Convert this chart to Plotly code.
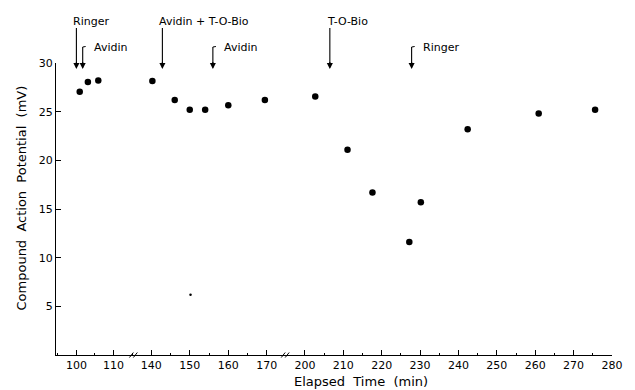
import numpy as np
import plotly.graph_objects as go

# ---------------- data ----------------
time_min = [100.9, 103.1, 105.9, 140.3, 146.1, 150.0, 154.0, 160.0, 169.5,
            202.7, 211.1, 217.6, 227.2, 230.2, 242.4, 260.9, 275.6]
cap_mv = [27.05, 28.05, 28.2, 28.15, 26.2, 25.2, 25.2, 25.65, 26.2,
          26.55, 21.1, 16.7, 11.6, 15.7, 23.2, 24.8, 25.2]

speck_time = [150.2]
speck_mv = [6.2]

event_labels = ["Ringer", "Avidin", "Avidin + T-O-Bio", "Avidin", "T-O-Bio", "Ringer"]
event_times = [100.0, 101.7, 142.9, 156.0, 206.5, 227.8]
event_long = [True, False, True, False, True, False]

# broken x axis segments (min)
seg_ranges = [(94.5, 115.5), (135.5, 174.9), (195.0, 280.0)]
y_ticks = [5, 10, 15, 20, 25, 30]

# ---------------- layout geometry ----------------
W, H = 635, 390
ML, MR, MT, MB = 56, 15, 63, 35
PW = W - ML - MR
PH = H - MT - MB
break_px = [135, 289]
doms = [(0.0, (break_px[0] - ML) / PW),
        ((break_px[0] - ML) / PW, (break_px[1] - ML) / PW),
        ((break_px[1] - ML) / PW, 1.0)]
axis_names = ["x", "x2", "x3"]
FONT = "DejaVu Sans"


def py(px_y):
    """page pixel row -> paper y"""
    return (MT + PH - px_y) / PH


fig = go.Figure()
t = np.array(time_min)
v = np.array(cap_mv)
st = np.array(speck_time)
sv = np.array(speck_mv)
for (lo, hi), ax in zip(seg_ranges, axis_names):
    m = (t >= lo) & (t <= hi)
    fig.add_trace(go.Scatter(x=t[m], y=v[m], mode="markers", xaxis=ax, yaxis="y",
                             marker=dict(size=6.5, color="black"), showlegend=False,
                             cliponaxis=False))
    ms = (st >= lo) & (st <= hi)
    if ms.any():
        fig.add_trace(go.Scatter(x=st[ms], y=sv[ms], mode="markers", xaxis=ax, yaxis="y",
                                 marker=dict(size=2.5, color="black"), showlegend=False))


def seg_of(x):
    for (lo, hi), ax in zip(seg_ranges, axis_names):
        if lo <= x <= hi:
            return ax
    return "x"


tip_px = 69
annotations = []
shapes = []
for lab, tm, lg in zip(event_labels, event_times, event_long):
    ax = seg_of(tm)
    tail_px = 28 if lg else 47
    # shaft
    shapes.append(dict(type="line", xref=ax, yref="paper", x0=tm, x1=tm,
                       y0=py(tail_px), y1=py(tip_px - 4), line=dict(color="black", width=1.1)))
    # head
    annotations.append(dict(x=tm, y=py(tip_px), xref=ax, yref="paper", text=" ",
                            showarrow=True, ax=0, ay=-8, arrowhead=2, arrowsize=1.1,
                            arrowwidth=1.1, arrowcolor="black", borderpad=0, font=dict(size=1)))
    if lg:
        annotations.append(dict(x=tm, y=py(21), xref=ax, yref="paper",
                                text=lab, showarrow=False, xanchor="left", yanchor="middle",
                                xshift=-5, font=dict(family=FONT, size=11, color="black")))
    else:
        annotations.append(dict(x=tm, y=py(47), xref=ax, yref="paper", text=lab,
                                showarrow=False, xanchor="left", yanchor="middle",
                                xshift=9, font=dict(family=FONT, size=11, color="black")))
        shapes.append(dict(type="line", xref=ax, yref="paper", x0=tm, x1=tm + 0.8,
                           y0=py(tail_px), y1=py(tail_px - 0.5),
                           line=dict(color="black", width=1)))

# axis break marks
for bp in break_px:
    xb = (bp - ML) / PW
    for o in (-2.5, 1.5):
        shapes.append(dict(type="line", xref="paper", yref="paper",
                           x0=xb + (o - 2) / PW, y0=-2.5 / PH,
                           x1=xb + (o + 2) / PW, y1=2.5 / PH,
                           line=dict(color="black", width=1)))

annotations.append(dict(text="Elapsed  Time  (min)", xref="paper", yref="paper",
                        x=(365 - ML) / PW, y=py(381), showarrow=False,
                        xanchor="center", yanchor="middle",
                        font=dict(family=FONT, size=13, color="black")))
annotations.append(dict(text="Compound  Action  Potential  (mV)", xref="paper", yref="paper",
                        x=(20 - ML) / PW, y=py(198), showarrow=False,
                        textangle=-90, xanchor="center", yanchor="middle",
                        font=dict(family=FONT, size=13, color="black")))

xaxis_common = dict(showline=True, linecolor="black", linewidth=1.2, showgrid=False,
                    zeroline=False, ticks="inside", ticklen=5, tickwidth=1, tickcolor="black",
                    tick0=0, dtick=10, anchor="y",
                    tickfont=dict(family=FONT, size=11, color="black"),
                    minor=dict(ticks="inside", ticklen=2, dtick=5, tick0=0, tickcolor="black"))

layout = dict(width=W, height=H, margin=dict(l=ML, r=MR, t=MT, b=MB),
              paper_bgcolor="white", plot_bgcolor="white", showlegend=False,
              yaxis=dict(range=[0, 30], showline=True, linecolor="black", linewidth=1.2,
                         showgrid=False, zeroline=False, ticks="inside", ticklen=5,
                         tickcolor="black", tickvals=y_ticks, anchor="x",
                         tickfont=dict(family=FONT, size=11, color="black")),
              annotations=annotations, shapes=shapes)
for ax, dom, rg in zip(axis_names, doms, seg_ranges):
    key = "xaxis" if ax == "x" else "xaxis" + ax[1:]
    layout[key] = dict(xaxis_common, domain=list(dom), range=list(rg))

fig.update_layout(**layout)
fig.write_html("out.html", config={"displayModeBar": False},
               post_script="document.body.style.margin='0px';"
                           "document.body.style.overflow='hidden';")
